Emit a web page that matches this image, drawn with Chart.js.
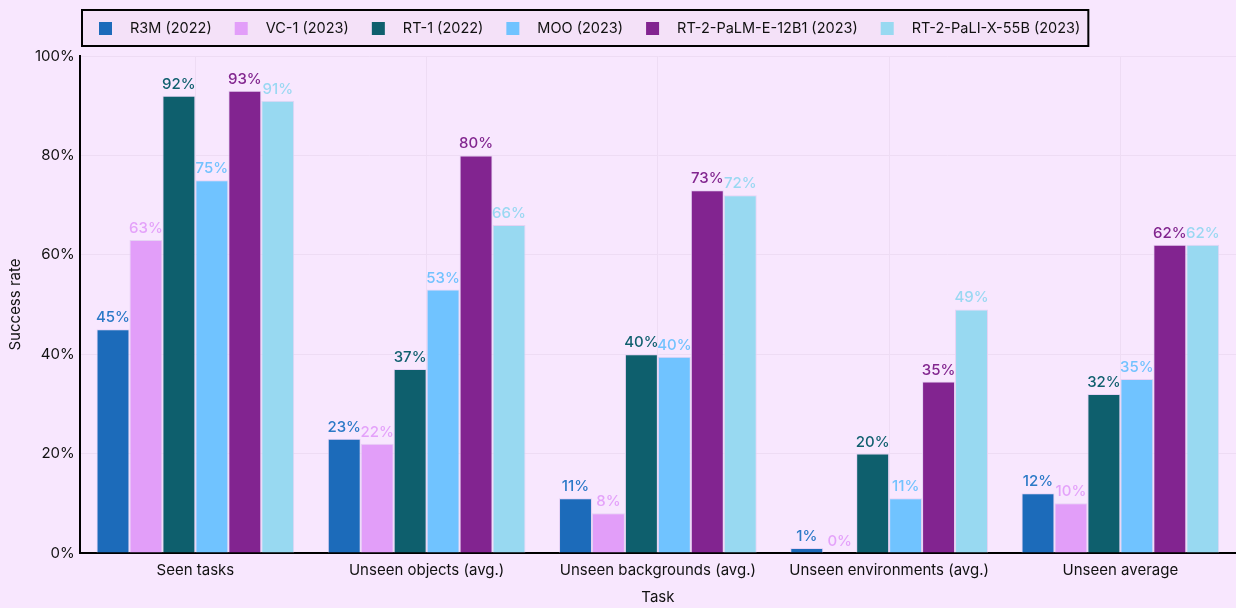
<!DOCTYPE html>
<html>
<head>
    <title>Success rate by task</title>
    <script src="https://cdn.jsdelivr.net/npm/chart.js@4.4.0/dist/chart.umd.min.js"></script>
    <style>
        html, body { margin: 0; padding: 0; background: #f8e7fe; }
        #wrap { width: 1236px; height: 608px; position: relative; }
    </style>
</head>
<body>
<div id="wrap"><canvas id="chart"></canvas></div>
<script>
    const tasks = ['Seen tasks', 'Unseen objects (avg.)', 'Unseen backgrounds (avg.)', 'Unseen environments (avg.)', 'Unseen average'];
    const seriesNames = ['R3M (2022)', 'VC-1 (2023)', 'RT-1 (2022)', 'MOO (2023)', 'RT-2-PaLM-E-12B1 (2023)', 'RT-2-PaLI-X-55B (2023)'];
    const r3m = [45, 23, 11, 1, 12];
    const vc1 = [63, 22, 8, 0, 10];
    const rt1 = [92, 37, 40, 20, 32];
    const moo = [75, 53, 39.5, 11, 35];
    const rt2Palm = [93, 80, 73, 34.5, 62];
    const rt2Pali = [91, 66, 72, 49, 62];
    const yTicks = [0, 20, 40, 60, 80, 100];

    const barColors = ['#1c6bba', '#e29ef9', '#0e5f6d', '#70c3ff', '#822490', '#98d9f1'];
    const labelColors = ['#2b79c7', '#e4a2fa', '#0f5f6e', '#72c2fe', '#82268f', '#9ad8f2'];
    const values = [r3m, vc1, rt1, moo, rt2Palm, rt2Pali];
    const FONT = "Inter, 'Noto Sans', sans-serif";

    const bgPlugin = {
        id: 'bg',
        beforeDraw(chart) {
            const c = chart.ctx;
            c.save();
            c.fillStyle = '#f8e7fe';
            c.fillRect(0, 0, chart.width, chart.height);
            c.restore();
        }
    };

    // value labels above bars
    const labelPlugin = {
        id: 'barLabels',
        afterDatasetsDraw(chart) {
            const c = chart.ctx;
            c.save();
            c.font = '500 15px ' + FONT;
            c.textAlign = 'center';
            c.textBaseline = 'bottom';
            chart.data.datasets.forEach((ds, i) => {
                const meta = chart.getDatasetMeta(i);
                c.fillStyle = labelColors[i];
                meta.data.forEach((bar, j) => {
                    c.fillText(Math.round(ds.data[j]) + '%', bar.x, bar.y - 4);
                });
            });
            c.restore();
        }
    };

    // boxed legend drawn by hand
    const legendPlugin = {
        id: 'boxLegend',
        afterDraw(chart) {
            const c = chart.ctx;
            c.save();
            c.font = '14.5px ' + FONT;
            c.textBaseline = 'middle';
            const top = 10, h = 36, left = 82;
            const midY = top + h / 2;
            const widths = seriesNames.map(n => c.measureText(n).width);
            const total = 17 + widths.reduce((a, w) => a + 13 + 18 + w + 23, 0) - 23 + 8;
            c.fillStyle = '#f4e1f8';
            c.fillRect(left, top, total, h);
            c.strokeStyle = '#000';
            c.lineWidth = 2;
            c.strokeRect(left, top, total, h);
            let x = left + 17;
            seriesNames.forEach((n, i) => {
                c.fillStyle = barColors[i];
                c.fillRect(x, midY - 6, 13, 13);
                x += 13 + 18;
                c.fillStyle = '#111';
                c.fillText(n, x, midY + 1);
                x += widths[i] + 23;
            });
            c.restore();
        }
    };

    new Chart(document.getElementById('chart'), {
        type: 'bar',
        data: {
            labels: tasks,
            datasets: seriesNames.map((n, i) => ({
                label: n,
                data: values[i],
                backgroundColor: barColors[i],
                borderColor: '#e6d2f4',
                borderWidth: 1,
                barPercentage: 1.0,
                categoryPercentage: 0.855
            }))
        },
        options: {
            responsive: true,
            maintainAspectRatio: false,
            animation: false,
            layout: { padding: { top: 56, right: 0, bottom: 0, left: 0 } },
            plugins: {
                legend: { display: false },
                tooltip: { enabled: false }
            },
            scales: {
                x: {
                    grid: { offset: false, color: '#eedcf4', drawTicks: false },
                    border: { color: '#000', width: 2 },
                    ticks: { color: '#111', font: { family: FONT, size: 15 }, padding: 8 },
                    title: { display: true, text: 'Task', color: '#111', font: { family: FONT, size: 15 }, padding: { top: 1, bottom: 2 } }
                },
                y: {
                    min: 0,
                    max: 100,
                    afterBuildTicks(axis) { axis.ticks = yTicks.map(v => ({ value: v })); },
                    grid: { color: '#eedcf4', drawTicks: false },
                    border: { color: '#000', width: 2 },
                    ticks: { color: '#111', font: { family: FONT, size: 15 }, padding: 5, callback: v => v + '%' },
                    title: { display: true, text: 'Success rate', color: '#111', font: { family: FONT, size: 15 }, padding: { top: 6, bottom: 6 } }
                }
            }
        },
        plugins: [bgPlugin, labelPlugin, legendPlugin]
    });
</script>
</body>
</html>
